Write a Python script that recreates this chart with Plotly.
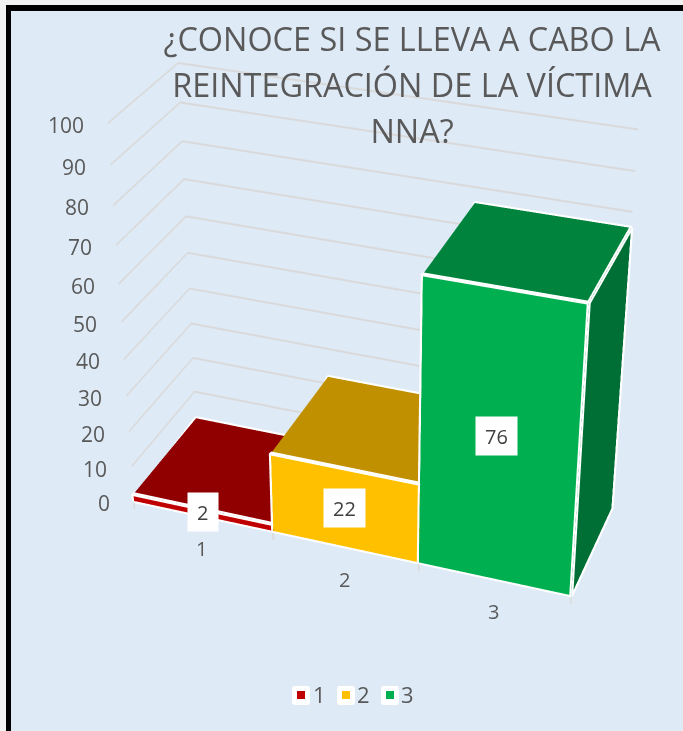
import plotly.graph_objects as go

categories = ["1", "2", "3"]
values = [2, 22, 76]
value_ticks = [0, 10, 20, 30, 40, 50, 60, 70, 80, 90, 100]
face_colors = ["#C00000", "#FFC000", "#00B050"]
top_colors = ["#900000", "#C09000", "#00843D"]
side_colors = ["#900000", "#C09000", "#006F35"]
title_lines = ["¿CONOCE SI SE LLEVA A CABO LA", "REINTEGRACIÓN DE LA VÍCTIMA", "NNA?"]

# The reference uses a long-lens perspective. Plotly's field of view is fixed, so the
# figure is larger than the window and shifted so the window shows the right part of it.
FIG_W, FIG_H = 744, 1702
TOP = -518
Z_MIN = -4
TEXT = "#595959"
FONT = "Open Sans"

def px(x):
    return x / FIG_W

def py(y):
    return 1 - (y - TOP) / FIG_H

fig = go.Figure()
for i, v in enumerate(values):
    x0, x1, y0, y1 = i, i + 1, 0, 1
    fig.add_trace(go.Mesh3d(
        x=[x0, x1, x1, x0, x0, x1, x1, x0], y=[y0, y0, y1, y1, y0, y0, y1, y1],
        z=[0, 0, 0, 0, v, v, v, v],
        i=[0, 0, 4, 4, 1, 1], j=[1, 5, 5, 6, 2, 6], k=[5, 4, 6, 7, 6, 5],
        facecolor=[face_colors[i]] * 2 + [top_colors[i]] * 2 + [side_colors[i]] * 2,
        flatshading=True, showscale=False, hoverinfo="skip",
        lighting=dict(ambient=1, diffuse=0, specular=0, roughness=1, fresnel=0)))
    fig.add_trace(go.Scatter3d(
        x=[x0, x1, x1, x0, x0, x0, x1, x1, x1, x1, x1],
        y=[y0, y0, y0, y0, y0, y1, y1, y0, y0, y1, y1],
        z=[0, 0, v, v, 0, v, v, v, 0, 0, v],
        mode="lines", line=dict(color="white", width=8), hoverinfo="skip"))
for b in range(len(categories) + 1):
    fig.add_trace(go.Scatter3d(x=[b, b], y=[0, 0], z=[0, -2.5], mode="lines",
                               line=dict(color="#D9D9D9", width=3), hoverinfo="skip"))

scene_notes = []
for t in value_ticks:
    scene_notes.append(dict(x=0, y=0, z=t, text=str(t), showarrow=False, xanchor="right", yanchor="middle",
                            xshift=-22, yshift=-2, font=dict(family=FONT, size=21, color=TEXT)))
for i, c in enumerate(categories):
    scene_notes.append(dict(x=i + .5, y=0, z=0, text=c, showarrow=False, xanchor="center", yanchor="middle",
                            xshift=-1, yshift=-33, font=dict(family=FONT, size=20, color=TEXT)))
for i, v in enumerate(values):
    big = v > 50
    scene_notes.append(dict(x=i + .5, y=0, z=v / 2, text=str(v), showarrow=False, bgcolor="white", borderpad=6,
                            width=11.5 * len(str(v)) + 6, height=26, align="center",
                            xshift=-3 if big else 0, yshift=4 if big else 0,
                            font=dict(family=FONT, size=20, color="#404040")))

def rect(x0, y0, x1, y1, color):
    return dict(type="rect", xref="paper", yref="paper", x0=px(x0), x1=px(x1), y0=py(y0), y1=py(y1),
                fillcolor=color, line=dict(width=0), layer="below")

def rounded(x0, y0, x1, y1, r, color):
    a, b, c, d = px(x0), px(x1), py(y0), py(y1)
    rx, ry = r / FIG_W, r / FIG_H
    path = (f"M {a+rx} {c} L {b-rx} {c} Q {b} {c} {b} {c-ry} L {b} {d+ry} Q {b} {d} {b-rx} {d} "
            f"L {a+rx} {d} Q {a} {d} {a} {d+ry} L {a} {c-ry} Q {a} {c} {a+rx} {c} Z")
    return dict(type="path", xref="paper", yref="paper", path=path, fillcolor=color, line=dict(width=0), layer="below")

shapes = [rect(0, 0, 744, 5, "#F2F2F2"), rect(0, 0, 6, 731, "#F2F2F2"),
          rect(6, 5, 744, 11, "black"), rect(6, 5, 11, 731, "black")]
notes = []
for lx, color, label, tx in zip([301, 346, 390], face_colors, categories, [319, 363, 408]):
    shapes.append(rounded(lx - 9, 686, lx + 9, 705, 3, "white"))
    shapes.append(rect(lx - 4, 691, lx + 4, 699, color))
    notes.append(dict(xref="paper", yref="paper", x=px(tx), y=py(694), text=label, showarrow=False,
                      xanchor="center", yanchor="middle", font=dict(family=FONT, size=22, color=TEXT)))

fig.update_layout(
    width=FIG_W, height=FIG_H, paper_bgcolor="#DEEAF6", margin=dict(l=0, r=0, t=0, b=0, pad=0),
    showlegend=False, shapes=shapes, annotations=notes,
    title=dict(text="<br>".join('<span style="font-size:32.4px">%s</span>' % s for s in title_lines),
               x=px(412), xanchor="center", xref="paper", y=py(51), yanchor="top", yref="paper",
               font=dict(family=FONT, size=35.5, color=TEXT)),
    scene=dict(
        domain=dict(x=[0, 1], y=[0, 1]), annotations=scene_notes,
        xaxis=dict(range=[0, 3], showticklabels=False, ticks="", title="", showgrid=False, zeroline=False,
                   showline=False, showbackground=False, showspikes=False),
        yaxis=dict(range=[0, 1], showticklabels=False, ticks="", title="", showgrid=False, zeroline=False,
                   showline=False, showbackground=False, showspikes=False),
        zaxis=dict(range=[Z_MIN, 100], tickvals=value_ticks, showticklabels=False, ticks="", title="",
                   gridcolor="#D9D9D9", gridwidth=4, zeroline=False, showline=False,
                   showbackground=False, showspikes=False),
        aspectmode="manual", aspectratio=dict(x=1, y=0.335, z=0.946),
        camera=dict(eye=dict(x=1.287, y=-3.518, z=2.146), center=dict(x=0, y=0, z=0),
                    projection=dict(type="perspective"))))
fig.write_html("out.html", config={"displayModeBar": False}, post_script=(
    "document.documentElement.style.overflow='hidden';document.body.style.margin='0';"
    "document.body.style.overflow='hidden';"
    "var d=document.querySelector('.plotly-graph-div');d.style.position='absolute';"
    "d.style.left='0px';d.style.top='%dpx';" % TOP))
